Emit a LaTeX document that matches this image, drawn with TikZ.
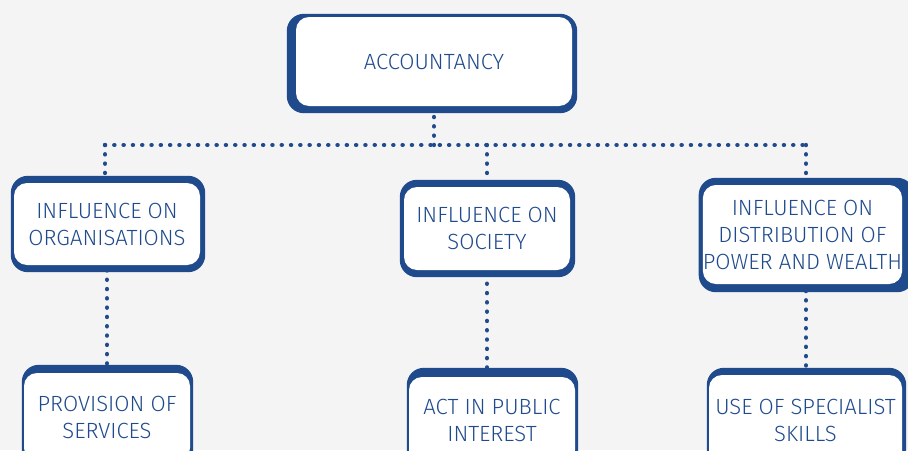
\documentclass[tikz,border=0pt]{standalone}
\usepackage{fontspec}
\setmainfont{Fira Sans Light}
\usetikzlibrary{positioning, calc, backgrounds}
\definecolor{acctblue}{RGB}{31, 74, 140}
\definecolor{pagegrey}{RGB}{244, 244, 244}

\begin{document}
\begin{tikzpicture}[
    x=1pt, y=-1pt,
    box/.style={rectangle, rounded corners=13pt, fill=white, inner sep=0pt,
                text=acctblue, align=center, font=\fontsize{22}{27}\selectfont},
    frame/.style={fill=acctblue, rounded corners=17pt},
    dots/.style={acctblue, line width=4.4pt, line cap=round,
                 dash pattern=on 0.1pt off 9.2pt},
]
\useasboundingbox (0,0) rectangle (908,450);

% Boxes
\node[box, minimum width=276pt, minimum height=89pt] (acc) at (434,61.5) {ACCOUNTANCY};
\node[box, minimum width=186pt, minimum height=82pt] (org) at (107,224) {INFLUENCE ON\\ORGANISATIONS};
\node[box, minimum width=166pt, minimum height=83pt] (soc) at (487,228.5) {INFLUENCE ON\\SOCIETY};
\node[box, minimum width=195pt, minimum height=99pt] (dist) at (802.5,234.5) {INFLUENCE ON\\DISTRIBUTION OF\\POWER AND WEALTH};
\node[box, minimum width=166pt, minimum height=88pt] (prov) at (107,417) {PROVISION OF\\SERVICES};
\node[box, minimum width=166pt, minimum height=86pt] (act) at (492,420) {ACT IN PUBLIC\\INTEREST};
\node[box, minimum width=193pt, minimum height=90pt] (use) at (805.5,420) {USE OF SPECIALIST\\SKILLS};

\coordinate (busL) at (105,145);
\coordinate (busR) at (806,145);

\begin{scope}[on background layer]
\fill[pagegrey] (0,0) rectangle (908,450);

% Frames
\fill[frame] ($(acc.north west)+(-9,-3)$) rectangle ($(acc.south east)+(5,7)$);
\fill[frame] ($(org.north west)+(-3,-7)$) rectangle ($(org.south east)+(5,7)$);
\fill[frame] ($(soc.north west)+(-4,-7)$) rectangle ($(soc.south east)+(5,7)$);
\fill[frame] ($(dist.north west)+(-4,-7)$) rectangle ($(dist.south east)+(12,8)$);
\fill[frame] ($(prov.north west)+(-2,-8)$) rectangle ($(prov.south east)+(3,10)$);
\fill[frame] ($(act.north west)+(-2,-9)$) rectangle ($(act.south east)+(3,10)$);
\fill[frame] ($(use.north west)+(-2,-7)$) rectangle ($(use.south east)+(4,10)$);

% Connectors
\draw[dots] (acc.south |- busL) -- (acc.south);
\draw[dots] (busL) -- (busR);
\draw[dots] (busL) -- (busL |- org.north);
\draw[dots] (soc.north |- busL) -- (soc.north);
\draw[dots] (busR) -- (busR |- dist.north);
\draw[dots] (prov.north) -- (org.south);
\draw[dots] (soc.south |- act.north) -- (soc.south);
\draw[dots] (busR |- use.north) -- (busR |- dist.south);
\end{scope}
\end{tikzpicture}
\end{document}
